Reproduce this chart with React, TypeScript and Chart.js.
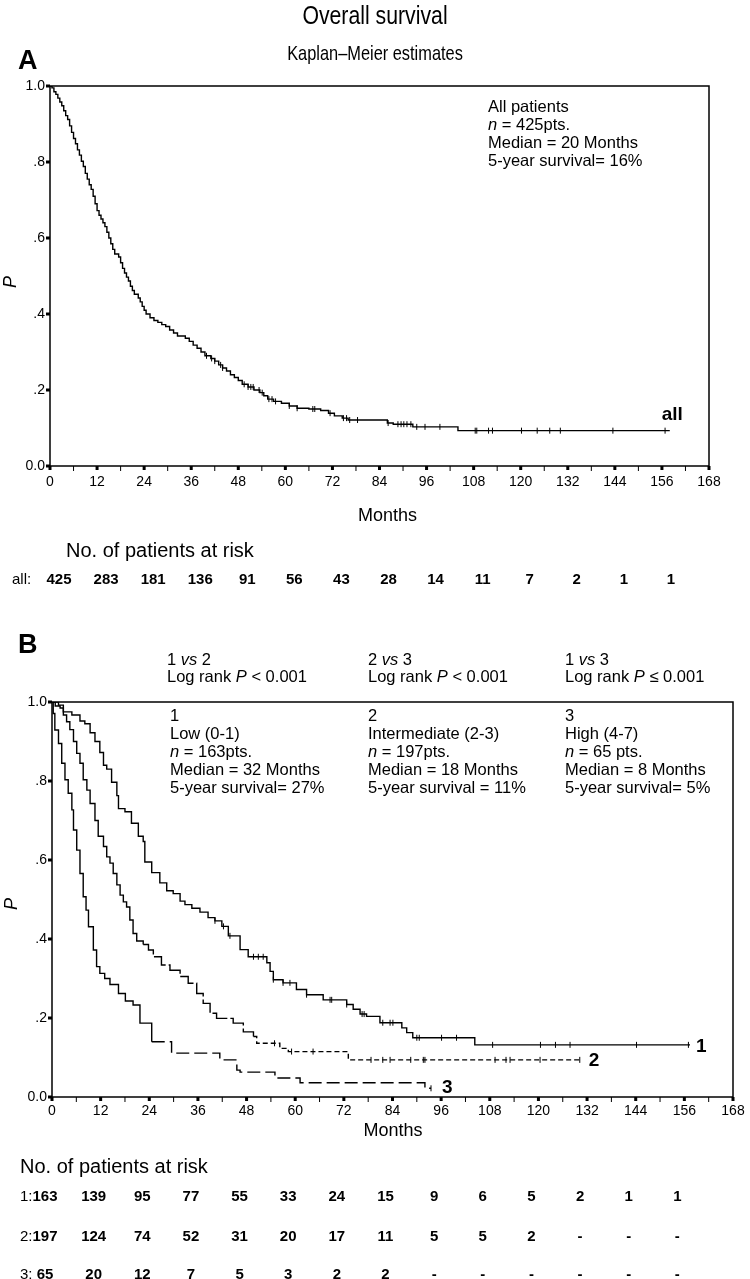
import React, { useEffect, useRef } from "react";
import { Chart, registerables } from "chart.js";
Chart.register(...registerables);

const SANS = '"Liberation Sans", Arial, Helvetica, sans-serif';

// ---------- data ----------
const monthTicks = [0, 12, 24, 36, 48, 60, 72, 84, 96, 108, 120, 132, 144, 156, 168];
const pTicks = [0, 0.2, 0.4, 0.6, 0.8, 1.0];
const pTickLabels = ["0.0", ".2", ".4", ".6", ".8", "1.0"];
const riskMonths = [0, 12, 24, 36, 48, 60, 72, 84, 96, 108, 120, 132, 144, 156];

const allTimes = [0, 0.5, 1, 1.5, 2, 2.5, 3, 3.5, 4, 4.5, 5, 5.5, 6, 6.5, 7, 7.5, 8, 8.5, 9, 9.5, 10, 10.5, 11, 11.5, 12, 12.5, 13, 13.5, 14, 14.5, 15, 15.5, 16, 16.5, 17.5, 18, 18.5, 19, 19.5, 20, 20.5, 21, 21.5, 22.5, 23, 23.5, 24, 24.5, 25.5, 26.5, 27.5, 28.5, 29.5, 30.5, 31.5, 32.5, 34.5, 35.5, 36.5, 37.5, 38.5, 39.5, 41, 42, 43, 44, 45, 46, 47, 48, 49, 50.5, 52, 53.5, 54.5, 55.5, 57, 59, 61, 63, 66, 69, 71, 72.5, 74.5, 76, 86, 87.5, 92.5, 104, 158];
const allSurv = [1.0, 0.995, 0.985, 0.978, 0.968, 0.958, 0.948, 0.935, 0.922, 0.912, 0.895, 0.878, 0.862, 0.848, 0.832, 0.818, 0.802, 0.788, 0.77, 0.755, 0.74, 0.728, 0.71, 0.69, 0.672, 0.66, 0.65, 0.64, 0.63, 0.615, 0.6, 0.585, 0.57, 0.558, 0.55, 0.535, 0.52, 0.508, 0.497, 0.487, 0.473, 0.462, 0.452, 0.442, 0.432, 0.42, 0.41, 0.4, 0.39, 0.383, 0.378, 0.372, 0.367, 0.358, 0.35, 0.342, 0.336, 0.328, 0.318, 0.31, 0.3, 0.29, 0.283, 0.276, 0.266, 0.258, 0.25, 0.24, 0.233, 0.225, 0.215, 0.208, 0.2, 0.193, 0.185, 0.176, 0.17, 0.165, 0.158, 0.152, 0.15, 0.146, 0.139, 0.132, 0.126, 0.121, 0.113, 0.11, 0.103, 0.093, 0.093];
const allCensor = [39.9, 41.2, 42, 43.5, 44, 49.5, 50.5, 51.2, 51.8, 53.3, 54.1, 55.8, 56.6, 57.5, 61, 63, 67, 67.5, 71.4, 74.8, 75.6, 76.4, 78.4, 86.2, 88.7, 89.5, 90.2, 91, 92, 93.5, 95.6, 99.4, 108.4, 108.8, 111.8, 112.8, 120.2, 124.2, 127.4, 130.1, 143.5, 156.8];
const allRisk = ["425", "283", "181", "136", "91", "56", "43", "28", "14", "11", "7", "2", "1", "1"];

const lowTimes = [0, 1.6, 2.8, 4.9, 6.9, 8.1, 9.4, 10.6, 11.8, 12.7, 13.5, 14.7, 16, 16.4, 18, 19.6, 21.3, 22.5, 22.9, 24.6, 26.6, 28.3, 29.9, 31.6, 32.8, 34.5, 36.5, 38.5, 40.2, 41.9, 43.5, 46.4, 48.4, 53, 53.8, 54.6, 57, 60.3, 62.8, 66.9, 72.7, 74.3, 76, 77.6, 80.9, 86.3, 87.5, 89, 104.3, 157.4];
const lowSurv = [1.0, 0.992, 0.975, 0.967, 0.952, 0.945, 0.922, 0.9, 0.872, 0.84, 0.83, 0.797, 0.763, 0.73, 0.722, 0.693, 0.66, 0.647, 0.595, 0.568, 0.542, 0.522, 0.515, 0.496, 0.487, 0.478, 0.468, 0.454, 0.446, 0.432, 0.408, 0.373, 0.355, 0.34, 0.318, 0.297, 0.289, 0.272, 0.259, 0.246, 0.234, 0.222, 0.21, 0.204, 0.188, 0.175, 0.163, 0.15, 0.132, 0.132];
const lowCensor = [40.2, 42.3, 43.9, 49.7, 50.9, 52.1, 54.6, 57, 58.7, 62.8, 68.6, 69, 72.7, 76.5, 77, 81.6, 83.4, 84.1, 90, 90.6, 96.1, 99.8, 108.7, 120.5, 124.2, 127.8, 144.2, 157];
const lowRisk = ["163", "139", "95", "77", "55", "33", "24", "15", "9", "6", "5", "2", "1", "1"];

const midTimes = [0, 0.8, 2, 2.8, 3.6, 4.4, 5.3, 6.1, 6.9, 7.7, 8.6, 9.4, 10.6, 11.4, 12.7, 13.5, 14.3, 15.1, 16, 16.8, 17.6, 18.4, 19.2, 20, 20.9, 22.5, 23.8, 25, 27, 29.1, 31.6, 33.6, 35.7, 37.3, 39, 40.6, 44.7, 47.2, 49.7, 50.5, 56.2, 58.3, 73.1, 130.2];
const midSurv = [1.0, 0.99, 0.985, 0.967, 0.95, 0.93, 0.9, 0.87, 0.845, 0.803, 0.777, 0.743, 0.7, 0.66, 0.634, 0.608, 0.592, 0.566, 0.537, 0.511, 0.494, 0.481, 0.448, 0.414, 0.395, 0.386, 0.372, 0.355, 0.334, 0.321, 0.305, 0.288, 0.262, 0.237, 0.212, 0.199, 0.187, 0.165, 0.153, 0.136, 0.123, 0.115, 0.094, 0.094];
const midCensor = [54.9, 59.1, 64.4, 78.7, 81.6, 83.4, 88.5, 91.6, 92, 109.3, 112, 113, 120.4, 130.2];
const midRisk = ["197", "124", "74", "52", "31", "20", "17", "11", "5", "5", "2", "-", "-", "-"];

const highTimes = [0, 0.3, 0.7, 1.6, 2.4, 3.2, 4, 4.9, 5.3, 6.1, 6.9, 7.7, 8.4, 9, 10.2, 11, 11.8, 13, 14.3, 16.4, 18.1, 20, 21.7, 24.6, 29.5, 41.4, 45.6, 46.4, 55, 61.2, 92, 93.5];
const highSurv = [1.0, 0.971, 0.929, 0.895, 0.845, 0.803, 0.769, 0.727, 0.676, 0.625, 0.566, 0.507, 0.473, 0.431, 0.372, 0.33, 0.313, 0.3, 0.285, 0.262, 0.243, 0.233, 0.187, 0.14, 0.111, 0.094, 0.068, 0.063, 0.048, 0.036, 0.022, 0.022];
const highCensor = [93.5];
const highRisk = ["65", "20", "12", "7", "5", "3", "2", "2", "-", "-", "-", "-", "-", "-"];

// ---------- helpers ----------
function survAt(times: number[], surv: number[], t: number) {
  let s = surv[0];
  for (let i = 0; i < times.length; i++) if (times[i] <= t) s = surv[i];
  return s;
}
const km = (t: number[], s: number[]) => t.map((x, i) => ({ x, y: s[i] }));
const cens = (t: number[], s: number[], c: number[]) => c.map((x) => ({ x, y: survAt(t, s, x) }));

const framePlugin = {
  id: "kmFrame",
  afterDraw(chart: any, _args: any, opts: any) {
    const { ctx, chartArea: a, scales } = chart;
    const x = scales.x, y = scales.y;
    ctx.save();
    ctx.strokeStyle = "#000";
    ctx.fillStyle = "#000";
    ctx.lineWidth = 1.5;
    ctx.strokeRect(a.left, a.top, a.right - a.left, a.bottom - a.top);
    for (let m = 0; m <= 168; m += 6) {
      const px = x.getPixelForValue(m);
      if (m % 12 === 0) ctx.fillRect(px - 1.5, a.bottom, 3, 4);
      else ctx.fillRect(px - 0.5, a.bottom, 1, 5);
    }
    pTicks.forEach((v) => {
      const py = y.getPixelForValue(v);
      ctx.fillRect(a.left - 4, py - 1.5, 4, 3);
    });
    // tick labels
    ctx.font = `14px ${SANS}`;
    ctx.textBaseline = "middle";
    ctx.textAlign = "center";
    monthTicks.forEach((m) => ctx.fillText(String(m), x.getPixelForValue(m), a.bottom + opts.xLabelGap));
    ctx.textAlign = "right";
    pTicks.forEach((v, i) => ctx.fillText(pTickLabels[i], a.left - 5, y.getPixelForValue(v)));
    // curve end labels
    ctx.textAlign = "left";
    ctx.font = `bold 19px ${SANS}`;
    (opts.labels || []).forEach((l: any) => {
      const px = x.getPixelForValue(l.t);
      const py = y.getPixelForValue(l.s);
      ctx.fillText(l.text, px + l.dx, py + l.dy);
    });
    // risk table rows
    (opts.rows || []).forEach((r: any) => {
      ctx.textAlign = "left";
      ctx.font = `15px ${SANS}`;
      ctx.fillText(r.label, r.labelX, r.y);
      ctx.textAlign = "center";
      ctx.font = `bold 15px ${SANS}`;
      r.values.forEach((v: string, i: number) => {
        ctx.fillText(v, x.getPixelForValue(riskMonths[i]) + r.dx, r.y);
      });
    });
    ctx.restore();
  },
};

function makeConfig(datasets: any[], pad: any, yW: number, pluginOpts: any) {
  return {
    type: "line",
    data: { datasets },
    plugins: [framePlugin],
    options: {
      responsive: false,
      animation: false,
      devicePixelRatio: 1,
      layout: { padding: pad },
      plugins: { legend: { display: false }, tooltip: { enabled: false }, kmFrame: pluginOpts },
      elements: { point: { radius: 0 }, line: { tension: 0 } },
      scales: {
        x: {
          type: "linear",
          min: 0,
          max: 168,
          grid: { display: false, drawTicks: false },
          border: { display: false },
          ticks: { display: false, stepSize: 12 },
          afterFit: (s: any) => { s.height = 30; },
        },
        y: {
          min: 0,
          max: 1,
          grid: { display: false, drawTicks: false },
          border: { display: false },
          ticks: { display: false, stepSize: 0.2 },
          afterFit: (s: any) => { s.width = yW; },
        },
      },
    },
  } as any;
}

const curve = (data: any[], extra: any = {}) => ({
  type: "line",
  data,
  stepped: true,
  borderColor: "#000",
  borderWidth: 1.4,
  pointRadius: 0,
  fill: false,
  ...extra,
});
const marks = (data: any[]) => ({
  type: "scatter",
  data,
  showLine: false,
  pointStyle: "line",
  rotation: 90,
  pointRadius: 3,
  borderColor: "#000",
  borderWidth: 1,
});

function PanelA() {
  const ref = useRef<HTMLCanvasElement>(null);
  useEffect(() => {
    const cfg = makeConfig(
      [curve(km(allTimes, allSurv)), marks(cens(allTimes, allSurv, allCensor))],
      { left: 0, right: 41, top: 86, bottom: 104 },
      50,
      {
        xLabelGap: 16,
        labels: [{ text: "all", t: allTimes[allTimes.length - 1], s: allSurv[allSurv.length - 1], dx: -8, dy: -16 }],
        rows: [{ label: "all:", labelX: 12, y: 580, values: allRisk, dx: 9 }],
      }
    );
    const c = new Chart(ref.current as HTMLCanvasElement, cfg);
    return () => c.destroy();
  }, []);
  return <canvas ref={ref} width={750} height={600} style={{ position: "absolute", left: 0, top: 0 }} />;
}

function PanelB() {
  const ref = useRef<HTMLCanvasElement>(null);
  useEffect(() => {
    const dashMid = { segment: { borderDash: (c: any) => (c.p0.parsed.x >= 22 ? (c.p0.parsed.x >= 48 ? [5, 3] : [20, 3]) : undefined) } };
    const dashHigh = { segment: { borderDash: (c: any) => (c.p0.parsed.x >= 24.6 ? [13, 5] : undefined) } };
    const cfg = makeConfig(
      [
        curve(km(lowTimes, lowSurv)),
        marks(cens(lowTimes, lowSurv, lowCensor)),
        curve(km(midTimes, midSurv), dashMid),
        marks(cens(midTimes, midSurv, midCensor)),
        curve(km(highTimes, highSurv), dashHigh),
        marks(cens(highTimes, highSurv, highCensor)),
      ],
      { left: 0, right: 17, top: 102, bottom: 152 },
      52,
      {
        xLabelGap: 14,
        labels: [
          { text: "1", t: lowTimes[lowTimes.length - 1], s: lowSurv[lowSurv.length - 1], dx: 6, dy: 2 },
          { text: "2", t: midTimes[midTimes.length - 1], s: midSurv[midSurv.length - 1], dx: 9, dy: 1 },
          { text: "3", t: highTimes[highTimes.length - 1], s: highSurv[highSurv.length - 1], dx: 11, dy: -1 },
        ],
        rows: [
          { label: "1:", labelX: 20, y: 597, values: lowRisk, dx: -7 },
          { label: "2:", labelX: 20, y: 637, values: midRisk, dx: -7 },
          { label: "3:", labelX: 20, y: 675, values: highRisk, dx: -7 },
        ],
      }
    );
    const c = new Chart(ref.current as HTMLCanvasElement, cfg);
    return () => c.destroy();
  }, []);
  return <canvas ref={ref} width={750} height={679} style={{ position: "absolute", left: 0, top: 600 }} />;
}

const abs = (left: number, top: number, size: number, extra: any = {}): React.CSSProperties => ({
  position: "absolute",
  left,
  top,
  fontSize: size,
  lineHeight: 1,
  whiteSpace: "nowrap",
  ...extra,
});
const I = ({ children }: any) => <span style={{ fontStyle: "italic" }}>{children}</span>;

function Block({ left, top, lh, size, lines }: any) {
  return (
    <div style={{ position: "absolute", left, top, fontSize: size, lineHeight: `${lh}px`, whiteSpace: "nowrap" }}>
      {lines.map((l: any, i: number) => (
        <div key={i}>{l}</div>
      ))}
    </div>
  );
}

export default function App() {
  return (
    <div style={{ position: "absolute", left: 0, top: 0, width: 750, height: 1279, background: "#fff", fontFamily: SANS, color: "#000", overflow: "hidden" }}>
      <PanelA />
      <PanelB />
      <div style={{ ...abs(0, 3, 25), width: 750, textAlign: "center", transform: "scaleX(0.85)" }}>Overall survival</div>
      <div style={{ ...abs(0, 42, 21), width: 750, textAlign: "center", transform: "scaleX(0.78)" }}>Kaplan–Meier estimates</div>
      <div style={abs(18, 47, 27, { fontWeight: "bold" })}>A</div>
      <div style={abs(10, 282, 18, { fontStyle: "italic", transform: "translate(-50%,-50%) rotate(-90deg)" })}>P</div>
      <Block left={488} top={97} lh={18} size={16.5} lines={["All patients", <><I>n</I> =  425pts.</>, "Median = 20 Months", "5-year survival= 16%"]} />
      <div style={{ ...abs(0, 506, 18), width: 775, textAlign: "center" }}>Months</div>
      <div style={abs(66, 540, 20)}>No. of patients at risk</div>

      <div style={abs(18, 631, 27, { fontWeight: "bold" })}>B</div>
      <Block left={167} top={651} lh={17} size={16.5} lines={[<>1 <I>vs</I> 2</>, <>Log rank <I>P</I> &lt; 0.001</>]} />
      <Block left={368} top={651} lh={17} size={16.5} lines={[<>2 <I>vs</I> 3</>, <>Log rank <I>P</I> &lt; 0.001</>]} />
      <Block left={565} top={651} lh={17} size={16.5} lines={[<>1 <I>vs</I> 3</>, <>Log rank <I>P</I> ≤ 0.001</>]} />
      <Block left={170} top={706} lh={18} size={16.5} lines={["1", "Low (0-1)", <><I>n</I> = 163pts.</>, "Median = 32 Months", "5-year survival= 27%"]} />
      <Block left={368} top={706} lh={18} size={16.5} lines={["2", "Intermediate (2-3)", <><I>n</I> = 197pts.</>, "Median = 18 Months", "5-year survival = 11%"]} />
      <Block left={565} top={706} lh={18} size={16.5} lines={["3", "High (4-7)", <><I>n</I> = 65 pts.</>, "Median = 8  Months", "5-year survival= 5%"]} />
      <div style={abs(11, 904, 18, { fontStyle: "italic", transform: "translate(-50%,-50%) rotate(-90deg)" })}>P</div>
      <div style={{ ...abs(0, 1121, 18), width: 786, textAlign: "center" }}>Months</div>
      <div style={abs(20, 1156, 20)}>No. of patients at risk</div>
    </div>
  );
}
